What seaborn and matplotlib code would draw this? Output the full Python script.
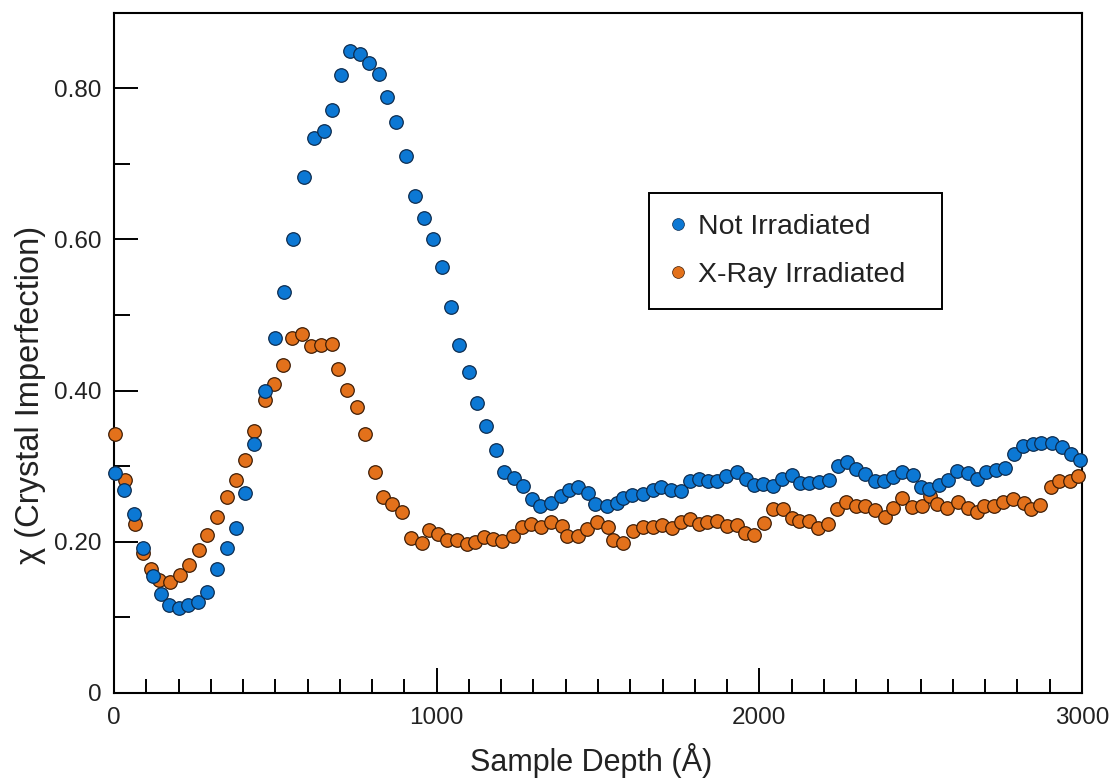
import matplotlib
matplotlib.use("Agg")
import matplotlib.pyplot as plt
from matplotlib.ticker import FixedLocator, MultipleLocator
from matplotlib.lines import Line2D
import pandas as pd
import seaborn as sns

# Depth profiles of the crystal imperfection parameter
depth_plain = [3, 31, 63, 91, 122, 145, 170, 201, 228, 259, 289, 318, 349, 377, 406, 435,
               467, 499, 528, 554, 588, 620, 651, 675, 703, 731, 762, 791, 821, 846, 874,
               905, 934, 961, 988, 1015, 1044, 1070, 1100, 1126, 1152, 1183, 1210, 1240,
               1268, 1294, 1320, 1353, 1384, 1411, 1439, 1470, 1491, 1527, 1558, 1578, 1604,
               1638, 1669, 1694, 1726, 1756, 1785, 1814, 1840, 1870, 1896, 1931, 1958, 1984,
               2012, 2043, 2071, 2100, 2126, 2155, 2186, 2217, 2245, 2272, 2301, 2329, 2358,
               2386, 2413, 2441, 2477, 2500, 2527, 2558, 2585, 2613, 2647, 2675, 2704, 2732,
               2761, 2790, 2816, 2847, 2873, 2906, 2937, 2965, 2993]
chi_plain = [0.291, 0.269, 0.237, 0.192, 0.155, 0.131, 0.116, 0.113, 0.117, 0.121, 0.134,
             0.164, 0.192, 0.218, 0.264, 0.329, 0.400, 0.469, 0.531, 0.600, 0.683, 0.734,
             0.744, 0.771, 0.817, 0.849, 0.846, 0.834, 0.819, 0.789, 0.756, 0.710, 0.658,
             0.628, 0.601, 0.564, 0.511, 0.461, 0.425, 0.384, 0.353, 0.322, 0.292, 0.285,
             0.274, 0.257, 0.248, 0.252, 0.261, 0.269, 0.273, 0.264, 0.250, 0.248, 0.251,
             0.258, 0.262, 0.263, 0.268, 0.273, 0.268, 0.267, 0.280, 0.283, 0.281, 0.281,
             0.287, 0.292, 0.283, 0.275, 0.277, 0.274, 0.283, 0.289, 0.278, 0.278, 0.279,
             0.282, 0.300, 0.305, 0.296, 0.290, 0.281, 0.280, 0.286, 0.292, 0.289, 0.272,
             0.270, 0.275, 0.282, 0.294, 0.291, 0.283, 0.292, 0.295, 0.298, 0.316, 0.327,
             0.329, 0.331, 0.331, 0.325, 0.316, 0.308]

depth_xray = [3, 34, 65, 89, 115, 140, 174, 205, 233, 264, 287, 318, 349, 378, 406, 435,
              467, 496, 523, 551, 582, 610, 641, 675, 694, 721, 752, 779, 809, 833, 862,
              893, 922, 954, 977, 1005, 1031, 1062, 1093, 1119, 1148, 1175, 1204, 1236,
              1263, 1291, 1323, 1354, 1387, 1403, 1439, 1467, 1498, 1532, 1545, 1578, 1607,
              1640, 1671, 1697, 1728, 1756, 1785, 1814, 1837, 1870, 1899, 1930, 1956, 1983,
              2014, 2043, 2074, 2100, 2124, 2155, 2183, 2214, 2241, 2270, 2299, 2329, 2358,
              2389, 2415, 2443, 2472, 2503, 2529, 2551, 2583, 2616, 2647, 2676, 2696, 2728,
              2756, 2787, 2819, 2842, 2870, 2904, 2930, 2963, 2988]
chi_xray = [0.342, 0.282, 0.223, 0.185, 0.164, 0.150, 0.147, 0.156, 0.169, 0.189, 0.209,
            0.233, 0.259, 0.282, 0.308, 0.347, 0.387, 0.409, 0.434, 0.469, 0.475, 0.459,
            0.460, 0.462, 0.429, 0.401, 0.379, 0.342, 0.293, 0.259, 0.250, 0.239, 0.205,
            0.199, 0.216, 0.211, 0.203, 0.203, 0.197, 0.200, 0.207, 0.204, 0.201, 0.208,
            0.220, 0.224, 0.219, 0.226, 0.221, 0.208, 0.208, 0.217, 0.226, 0.219, 0.203,
            0.198, 0.214, 0.219, 0.219, 0.222, 0.218, 0.226, 0.230, 0.224, 0.226, 0.227,
            0.221, 0.222, 0.212, 0.209, 0.225, 0.243, 0.244, 0.231, 0.227, 0.228, 0.218,
            0.224, 0.243, 0.253, 0.248, 0.248, 0.242, 0.233, 0.245, 0.258, 0.246, 0.248,
            0.261, 0.250, 0.245, 0.253, 0.245, 0.240, 0.247, 0.248, 0.253, 0.256, 0.251,
            0.243, 0.249, 0.272, 0.281, 0.281, 0.287]

series_names = ["Not Irradiated", "X-Ray Irradiated"]
x_ticks = [0, 1000, 2000, 3000]
x_tick_labels = ["0", "1000", "2000", "3000"]
y_ticks = [0.0, 0.2, 0.4, 0.6, 0.8]
y_tick_labels = ["0", "0.20", "0.40", "0.60", "0.80"]

fill_colors = {"Not Irradiated": "#0c78d4", "X-Ray Irradiated": "#e3711b"}
edge_colors = {"Not Irradiated": "#0d2c4f", "X-Ray Irradiated": "#3e1d06"}

sns.set_theme(style="white")
plt.rcParams["font.family"] = ["Liberation Sans", "DejaVu Sans"]

frames = [
    pd.DataFrame({"depth": depth_plain, "chi": chi_plain, "sample": series_names[0]}),
    pd.DataFrame({"depth": depth_xray, "chi": chi_xray, "sample": series_names[1]}),
]
df = pd.concat(frames, ignore_index=True)

fig = plt.figure(figsize=(11.11, 7.79), dpi=100)
fig.patch.set_facecolor("white")
ax = fig.add_axes([0.1026, 0.1104, 0.8713, 0.8733])
ax.set_facecolor("white")

# irradiated series first so the untreated points sit on top
for name in [series_names[1], series_names[0]]:
    sns.scatterplot(data=df[df["sample"] == name], x="depth", y="chi", ax=ax,
                    color=fill_colors[name], edgecolor=edge_colors[name],
                    linewidth=0.9, s=95, legend=False, clip_on=False, zorder=3)

ax.set_xlim(0, 3000)
ax.set_ylim(0, 0.90)

ax.xaxis.set_major_locator(FixedLocator(x_ticks))
ax.set_xticklabels(x_tick_labels)
ax.xaxis.set_minor_locator(MultipleLocator(100))
ax.yaxis.set_major_locator(FixedLocator(y_ticks))
ax.set_yticklabels(y_tick_labels)
ax.yaxis.set_minor_locator(MultipleLocator(0.1))

ax.tick_params(axis="both", which="both", direction="in", width=1.4, color="black",
               bottom=True, left=True, top=False, right=False,
               labelsize=17.5, labelcolor="#222222")
ax.tick_params(axis="x", which="major", length=18, pad=10)
ax.tick_params(axis="x", which="minor", length=10)
ax.tick_params(axis="y", which="major", length=17, pad=9)
ax.tick_params(axis="y", which="minor", length=11.5)

for sp in ax.spines.values():
    sp.set_visible(True)
    sp.set_color("black")
    sp.set_linewidth(1.5)

ax.set_xlabel("Sample Depth (\u00c5)", fontsize=22, color="#222222")
ax.xaxis.set_label_coords(0.493, -0.074)
ax.xaxis.label.set_va("top")
ax.set_ylabel("\u03c7 (Crystal Imperfection)", fontsize=23.5, color="#222222")
ax.yaxis.set_label_coords(-0.07, 0.438)

handles = [Line2D([], [], linestyle="none", marker="o", markersize=8.5,
                  markerfacecolor=fill_colors[n], markeredgecolor=edge_colors[n],
                  markeredgewidth=0.5) for n in series_names]
leg = ax.legend(handles, series_names, loc="upper left",
                bbox_to_anchor=(0.553, 0.566, 0.302, 0.169), mode="expand",
                fontsize=20.5, frameon=True, fancybox=False, framealpha=1,
                edgecolor="black", borderpad=0.75, labelspacing=0.75,
                handlelength=0.5, handletextpad=0.45, borderaxespad=0)
leg.get_frame().set_linewidth(1.4)
for t in leg.get_texts():
    t.set_color("#222222")

fig.savefig("out.png", dpi=100, facecolor="white")
